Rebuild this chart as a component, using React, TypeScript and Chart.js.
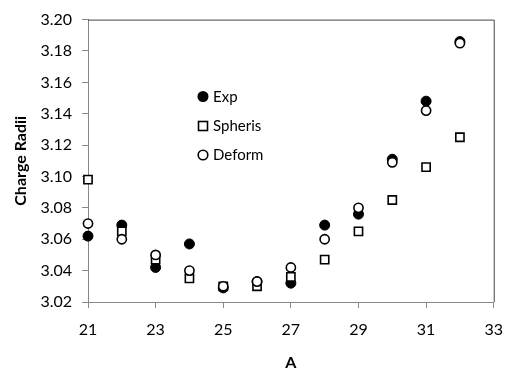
import React, { useEffect, useRef } from "react";
import { Chart, registerables } from "chart.js";

Chart.register(...registerables);

const massNumbers = [21, 22, 23, 24, 25, 26, 27, 28, 29, 30, 31, 32];
const expValues = [3.062, 3.069, 3.042, 3.057, 3.029, 3.033, 3.032, 3.069, 3.076, 3.111, 3.148, 3.186];
const spherisValues = [3.098, 3.065, 3.047, 3.035, 3.030, 3.030, 3.036, 3.047, 3.065, 3.085, 3.106, 3.125];
const deformValues = [3.070, 3.060, 3.050, 3.040, 3.030, 3.033, 3.042, 3.060, 3.080, 3.109, 3.142, 3.185];
const seriesLabels = ["Exp", "Spheris", "Deform"];

const toPoints = (vals: number[]) => massNumbers.map((a, i) => ({ x: a, y: vals[i] }));

const FONT = "Lato, 'Open Sans', sans-serif";

const framePlugin = {
  id: "frame",
  afterDatasetsDraw(chart: any) {
    const { ctx, chartArea } = chart;
    const { left, right, top, bottom } = chartArea;
    ctx.save();
    ctx.strokeStyle = "#444";
    ctx.lineWidth = 1;
    ctx.beginPath();
    ctx.moveTo(left, top + 0.5);
    ctx.lineTo(right + 0.5, top + 0.5);
    ctx.lineTo(right + 0.5, bottom);
    ctx.stroke();
    ctx.restore();
  },
};

const legendPlugin = {
  id: "innerLegend",
  afterDraw(chart: any) {
    const { ctx } = chart;
    const x0 = 203;
    const ys = [96.5, 126, 155];
    ctx.save();
    ctx.font = `15px ${FONT}`;
    ctx.textBaseline = "middle";
    seriesLabels.forEach((label, i) => {
      const y = ys[i];
      ctx.lineWidth = 1.6;
      ctx.strokeStyle = "#000";
      if (i === 0) {
        ctx.beginPath();
        ctx.arc(x0, y, 5.5, 0, Math.PI * 2);
        ctx.fillStyle = "#000";
        ctx.fill();
      } else if (i === 1) {
        ctx.fillStyle = "#fff";
        ctx.fillRect(x0 - 4.5, y - 4.5, 9, 9);
        ctx.strokeRect(x0 - 4.5, y - 4.5, 9, 9);
      } else {
        ctx.beginPath();
        ctx.arc(x0, y, 4.8, 0, Math.PI * 2);
        ctx.fillStyle = "#fff";
        ctx.fill();
        ctx.stroke();
      }
      ctx.fillStyle = "#000";
      ctx.fillText(label, 213, y + 0.5);
    });
    ctx.restore();
  },
};

export default function App() {
  const ref = useRef<HTMLCanvasElement | null>(null);

  useEffect(() => {
    if (!ref.current) return;
    const chart = new Chart(ref.current, {
      type: "scatter",
      data: {
        datasets: [
          {
            label: seriesLabels[2],
            data: toPoints(deformValues),
            pointStyle: "circle",
            pointRadius: 4.6,
            borderWidth: 1.6,
            borderColor: "#000",
            backgroundColor: "#fff",
            clip: false,
          },
          {
            label: seriesLabels[1],
            data: toPoints(spherisValues),
            pointStyle: "rect",
            pointRadius: 5.8,
            borderWidth: 1.6,
            borderColor: "#000",
            backgroundColor: "#fff",
            clip: false,
          },
          {
            label: seriesLabels[0],
            data: toPoints(expValues),
            pointStyle: "circle",
            pointRadius: 5,
            borderWidth: 1,
            borderColor: "#000",
            backgroundColor: "#000",
            clip: false,
          },
        ],
      },
      options: {
        animation: false,
        responsive: false,
        maintainAspectRatio: false,
        layout: { padding: { top: 18, right: 10, left: 0, bottom: 0 } },
        plugins: {
          legend: { display: false },
          tooltip: { enabled: false },
        },
        scales: {
          x: {
            type: "linear",
            min: 21,
            max: 33,
            ticks: {
              stepSize: 2,
              font: { family: FONT, size: 16 },
              color: "#000",
              padding: 12,
              maxRotation: 0,
            },
            grid: { drawOnChartArea: false, color: "#888", tickLength: 6 },
            border: { color: "#888", width: 1 },
            title: {
              display: true,
              text: "A",
              font: { family: FONT, size: 16, weight: "bold" },
              color: "#000",
              padding: { top: 0, bottom: -3 },
            },
            afterFit(scale: any) {
              scale.height = 67;
            },
          },
          y: {
            type: "linear",
            min: 3.02,
            max: 3.2,
            ticks: {
              stepSize: 0.02,
              font: { family: FONT, size: 16 },
              color: "#000",
              padding: 10,
              callback: (v: any) => Number(v).toFixed(2),
            },
            grid: { drawOnChartArea: false, color: "#888", tickLength: 6 },
            border: { color: "#888", width: 1 },
            title: {
              display: true,
              text: "Charge Radii",
              font: { family: FONT, size: 16, weight: "bold" },
              color: "#000",
              padding: { top: 11, bottom: 0 },
            },
            afterFit(scale: any) {
              scale.width = 88;
            },
          },
        },
      },
      plugins: [framePlugin, legendPlugin],
    });
    return () => chart.destroy();
  }, []);

  return (
    <div style={{ position: "fixed", left: 0, top: 0, width: 515, height: 369, background: "#fff" }}>
      <canvas ref={ref} width={515} height={369} style={{ display: "block" }} />
    </div>
  );
}
